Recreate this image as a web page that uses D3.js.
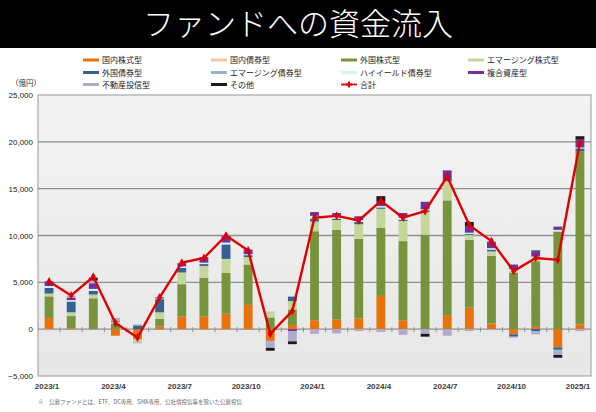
<!DOCTYPE html>
<html>
<head>
<meta charset="utf-8">
<script src="https://cdn.jsdelivr.net/npm/d3@7"></script>
<style>
  body { margin: 0; background: #fff; }
  svg { display: block; }
  text { font-family: "Liberation Sans", "Noto Sans CJK JP", sans-serif; }
  .jp { font-family: "Noto Sans CJK JP", sans-serif; }
</style>
</head>
<body>
<script>
// monthly flows (億円), 2023/1 .. 2025/1
var months = ["2023/1","2023/2","2023/3","2023/4","2023/5","2023/6","2023/7","2023/8","2023/9","2023/10","2023/11","2023/12",
  "2024/1","2024/2","2024/3","2024/4","2024/5","2024/6","2024/7","2024/8","2024/9","2024/10","2024/11","2024/12","2025/1"]
var tickLabels = ["2023/1","2023/4","2023/7","2023/10","2024/1","2024/4","2024/7","2024/10","2025/1"]
var yTicks = [-5000, 0, 5000, 10000, 15000, 20000, 25000]

var domesticStock = [1200, 100, 0, -700, -1100, 300, 1350, 1350, 1650, 2600, -1250, 450, 950, 1050, 1150, 3550, 950, 0, 1500, 2300, 600, -550, 250, -1950, 500]
var domesticBond  = [0, 0, 0, 0, 0, 0, 0, 0, 0, 0, 0, 0, 0, 0, 0, 0, 0, 0, 0, 0, 0, 0, 0, 0, 0]
var foreignStock  = [2300, 1300, 3300, 600, 0, 800, 3450, 4150, 4350, 4300, 1250, 1650, 9500, 9550, 8500, 7250, 8450, 10100, 12250, 7250, 7250, 6000, 7000, 10400, 18500]
var emStock       = [300, 400, 400, 200, -300, 700, 1250, 1250, 1500, 800, 650, 900, 1050, 1050, 1550, 2050, 2150, 2400, 2050, 500, 450, 250, 350, 100, 0]
var foreignBond   = [600, 1150, 400, 100, 400, 1400, 500, 200, 1550, 200, 0, 500, 300, 150, 250, 150, 150, 200, 0, 100, 200, -250, -200, -250, 300]
var emBond        = [0, 0, 0, 100, 100, 100, 0, 0, 0, 0, -200, 0, 0, 0, 0, 0, -100, 0, -200, 0, 0, 0, -150, -150, 0]
var highYield     = [200, 150, 200, 0, 0, 0, 150, 150, 200, 100, 0, 200, 300, 200, 200, 150, 200, 100, 0, 150, 150, 150, 150, 100, 100]
var balanced      = [500, 250, 600, 0, 0, 100, 350, 600, 700, 500, 0, -200, 400, 400, 400, 450, 500, 800, 1150, 700, 700, 500, 550, 350, 900]
var reit          = [-100, 200, 300, 200, -100, 0, 0, 0, 0, 0, -550, -1100, -500, -450, -200, -300, -500, -500, -500, -200, -100, -100, -200, -400, -200]
var others        = [0, 0, 300, 0, 0, 0, 0, 0, 0, 0, -300, -300, 0, 0, 0, 600, 0, -300, 0, 450, 0, 0, 100, -300, 300]
var total         = [5100, 3600, 5600, 650, -900, 3400, 7100, 7600, 10000, 8400, -500, 1950, 11900, 12100, 11600, 13700, 11900, 12600, 16300, 11100, 9400, 6200, 7600, 7400, 19900]

var seriesNames = ["国内株式型","国内債券型","外国株式型","エマージング株式型","外国債券型","エマージング債券型","ハイイールド債券型","複合資産型","不動産投信型","その他"]
var seriesValues = [domesticStock, domesticBond, foreignStock, emStock, foreignBond, emBond, highYield, balanced, reit, others]
var seriesColors = ["#e8720c","#f6c7a1","#77933c","#c4d79b","#376092","#95b3d7","#d4f4f4","#7030a0","#b1a9cc","#1a1a1a"]

var W = 596, H = 412
var svg = d3.select("body").append("svg").attr("width", W).attr("height", H)

// title band
svg.append("rect").attr("x", 0).attr("y", 0).attr("width", W).attr("height", 48).attr("fill", "#000")
svg.append("text").classed("jp", true)
  .attr("x", 298).attr("y", 35)
  .attr("text-anchor", "middle")
  .attr("font-size", 31).attr("font-weight", 300)
  .attr("fill", "#fff")
  .text("ファンドへの資金流入")

var plot = {left: 38, right: 591, top: 95, bottom: 376}

var x = d3.scaleBand().domain(months).range([plot.left, plot.right]).paddingInner(0.6).paddingOuter(0.3)
var y = d3.scaleLinear().domain([-5000, 25000]).range([plot.bottom, plot.top])

var defs = svg.append("defs")
var grad = defs.append("linearGradient").attr("id", "bg").attr("x1", 0).attr("y1", 0).attr("x2", 0).attr("y2", 1)
grad.append("stop").attr("offset", "0%").attr("stop-color", "#f3f3f3")
grad.append("stop").attr("offset", "100%").attr("stop-color", "#e7e7e7")

svg.append("rect")
  .attr("x", plot.left).attr("y", plot.top)
  .attr("width", plot.right - plot.left).attr("height", plot.bottom - plot.top)
  .attr("fill", "url(#bg)").attr("stroke", "#a8a8a8").attr("stroke-width", 1.2)

// grid lines
svg.selectAll("line.grid")
  .data(yTicks.filter(function(d){ return d > -5000 && d < 25000 }))
  .enter().append("line")
  .classed("grid", true)
  .attr("x1", plot.left).attr("x2", plot.right)
  .attr("y1", function(d){ return y(d) }).attr("y2", function(d){ return y(d) })
  .attr("stroke", "#8f8f8f").attr("stroke-width", 1.4)

// small ticks on the zero line between months
svg.selectAll("line.mtick")
  .data(months.slice(1))
  .enter().append("line")
  .classed("mtick", true)
  .attr("x1", function(d){ return x(d) - x.step() * x.paddingInner() / 2 })
  .attr("x2", function(d){ return x(d) - x.step() * x.paddingInner() / 2 })
  .attr("y1", y(0) - 2).attr("y2", y(0) + 3)
  .attr("stroke", "#8f8f8f").attr("stroke-width", 1)

// y axis labels
svg.selectAll("text.ylab")
  .data(yTicks)
  .enter().append("text")
  .classed("ylab", true)
  .attr("x", 33)
  .attr("y", function(d){ return y(d) + 3 })
  .attr("text-anchor", "end")
  .attr("font-size", 8)
  .attr("fill", "#222")
  .text(function(d){ return d3.format(",")(d) })

svg.append("text").classed("jp", true)
  .attr("x", 26).attr("y", 86)
  .attr("text-anchor", "middle")
  .attr("font-size", 7.5).attr("fill", "#333")
  .text("（億円）")

// x axis labels
svg.selectAll("text.xlab")
  .data(tickLabels)
  .enter().append("text")
  .classed("xlab", true)
  .attr("x", function(d){ return x(d) + x.bandwidth() / 2 - 2 })
  .attr("y", 389)
  .attr("text-anchor", "middle")
  .attr("font-size", 8).attr("font-weight", "bold")
  .attr("fill", "#3a3a3a")
  .text(function(d){ return d })

// stacked bars
var rows = months.map(function(m, i){
  var r = {month: m}
  seriesNames.forEach(function(n, k){ r[n] = seriesValues[k][i] })
  return r
})
var stack = d3.stack().keys(seriesNames).offset(d3.stackOffsetDiverging)
var layers = stack(rows)

svg.selectAll("g.layer")
  .data(layers)
  .enter().append("g")
  .classed("layer", true)
  .attr("fill", function(d, i){ return seriesColors[i] })
  .selectAll("rect")
  .data(function(d){ return d })
  .enter().append("rect")
  .attr("x", function(d){ return x(d.data.month) })
  .attr("width", x.bandwidth())
  .attr("y", function(d){ return y(Math.max(d[0], d[1])) })
  .attr("height", function(d){ return Math.abs(y(d[0]) - y(d[1])) })

// total line
var line = d3.line()
  .x(function(d, i){ return x(months[i]) + x.bandwidth() / 2 })
  .y(function(d){ return y(d) })

svg.append("path")
  .datum(total)
  .attr("d", line)
  .attr("fill", "none")
  .attr("stroke", "#e00000")
  .attr("stroke-width", 2.4)
  .attr("stroke-linejoin", "round")

svg.selectAll("path.marker")
  .data(total)
  .enter().append("path")
  .classed("marker", true)
  .attr("transform", function(d, i){ return "translate(" + (x(months[i]) + x.bandwidth() / 2) + "," + y(d) + ")" })
  .attr("d", d3.symbol().type(d3.symbolDiamond).size(22))
  .attr("fill", "#e00000")

// legend
var legendItems = seriesNames.map(function(n, i){ return {name: n, color: seriesColors[i]} })
legendItems.push({name: "合計", color: "#e00000", total: true})
var colX = [83, 211, 341, 468]
var rowY = [60, 72.5, 84.5]

var leg = svg.selectAll("g.legend")
  .data(legendItems)
  .enter().append("g")
  .classed("legend", true)
  .attr("transform", function(d, i){ return "translate(" + colX[i % 4] + "," + rowY[Math.floor(i / 4)] + ")" })

leg.append("line")
  .attr("x1", 0).attr("x2", 16)
  .attr("y1", 0).attr("y2", 0)
  .attr("stroke", function(d){ return d.color })
  .attr("stroke-width", function(d){ return d.total ? 1.8 : 3 })

leg.filter(function(d){ return d.total })
  .append("path")
  .attr("transform", "translate(8,0)")
  .attr("d", d3.symbol().type(d3.symbolCross).size(20))
  .attr("fill", "#e00000")

leg.append("text").classed("jp", true)
  .attr("x", 19).attr("y", 3)
  .attr("font-size", 8)
  .attr("fill", "#222")
  .text(function(d){ return d.name })

// footnote
svg.append("text").classed("jp", true)
  .attr("x", 38).attr("y", 404)
  .attr("font-size", 5.5)
  .attr("fill", "#666")
  .text("※　公募ファンドとは、ETF、DC専用、SMA専用、公社債投信等を除いた公募投信")
</script>
</body>
</html>
